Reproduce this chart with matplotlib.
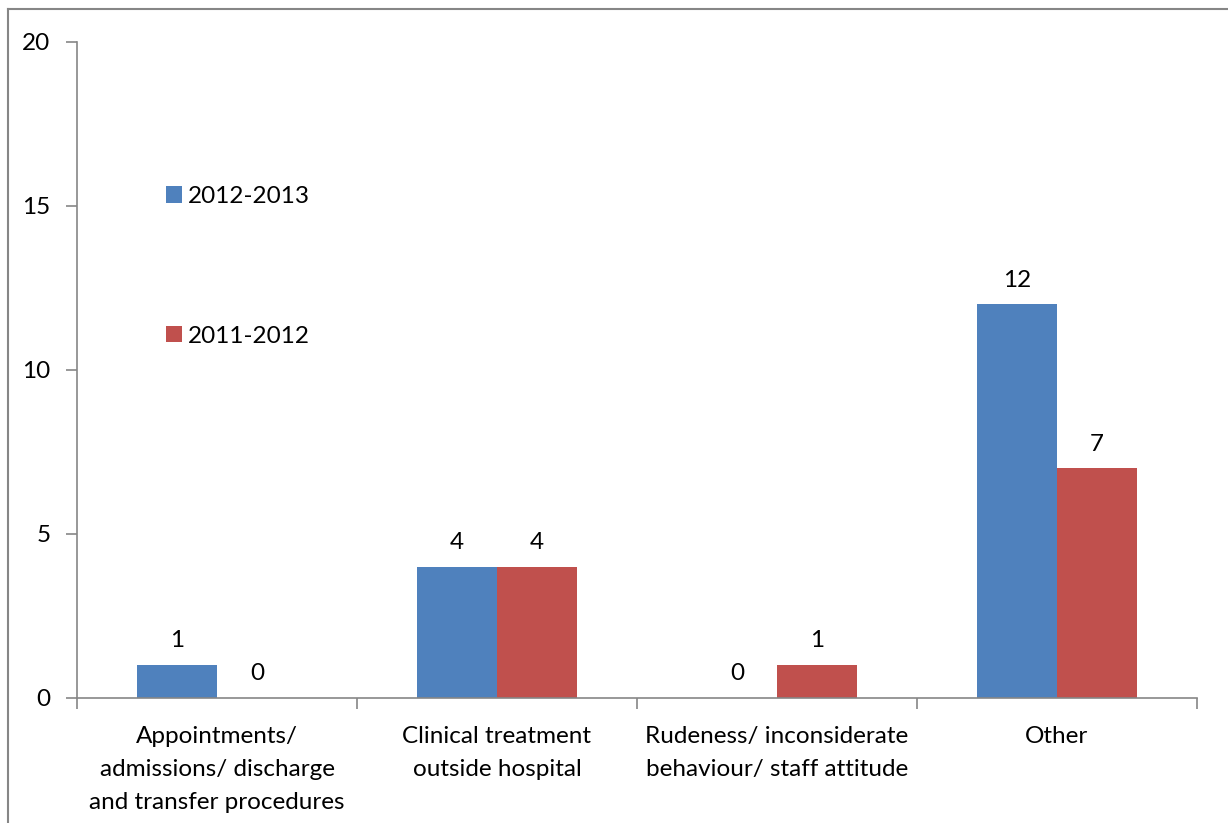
import numpy as np
import matplotlib
matplotlib.use("Agg")
import matplotlib.pyplot as plt
from matplotlib.lines import Line2D

plt.rcParams['font.family'] = ['Lato', 'DejaVu Sans']

categories = ["Appointments/\nadmissions/ discharge\nand transfer procedures",
              "Clinical treatment\noutside hospital",
              "Rudeness/ inconsiderate\nbehaviour/ staff attitude",
              "Other"]
series_names = ["2012-2013", "2011-2012"]
vals_2012_13 = [1, 4, 0, 12]
vals_2011_12 = [0, 4, 1, 7]

blue = "#4F81BD"
red = "#C0504D"
grey = "#868686"
fs = 17.5

W, H = 1228, 823
fig = plt.figure(figsize=(W / 100, H / 100), dpi=100)
ax = fig.add_axes([77 / W, (H - 698) / H, (1197 - 77) / W, (698 - 42) / H])

x = np.arange(len(categories))
bw = 80 / 280
b1 = ax.bar(x - bw / 2, vals_2012_13, bw, color=blue, label=series_names[0])
b2 = ax.bar(x + bw / 2, vals_2011_12, bw, color=red, label=series_names[1])
for bars in (b1, b2):
    ax.bar_label(bars, padding=10, fontsize=fs)

ax.set_xlim(-0.5, len(categories) - 0.5)
ax.set_ylim(0, 20)
ax.set_yticks([0, 5, 10, 15, 20])
ax.set_xticks(np.arange(len(categories) + 1) - 0.5)
ax.set_xticklabels([])
ax.set_xticks(x, minor=True)
ax.set_xticklabels(categories, minor=True, fontsize=fs, linespacing=1.72)
ax.tick_params(axis='x', which='minor', length=0, pad=20)
ax.tick_params(axis='x', which='major', length=8, color=grey, width=1.2)
ax.tick_params(axis='y', length=8, color=grey, width=1.2, labelsize=fs, pad=11)

for s in ("top", "right"):
    ax.spines[s].set_visible(False)
for s in ("left", "bottom"):
    ax.spines[s].set_color(grey)
    ax.spines[s].set_linewidth(1.2)

leg = ax.legend(loc="upper left", bbox_to_anchor=(166 / W, 1 - 186 / H),
                bbox_transform=fig.transFigure, frameon=False, fontsize=fs,
                handlelength=0.65, handleheight=0.65, handletextpad=0.25,
                labelspacing=4.88, borderpad=0, borderaxespad=0)

# outer frame of the chart area
fig.add_artist(Line2D([8 / W, 8 / W], [0, 1 - 9 / H], color=grey, lw=1.5,
                      transform=fig.transFigure))
fig.add_artist(Line2D([8 / W, 1], [1 - 9 / H, 1 - 9 / H], color=grey, lw=1.5,
                      transform=fig.transFigure))

fig.savefig("out.png", dpi=100)
